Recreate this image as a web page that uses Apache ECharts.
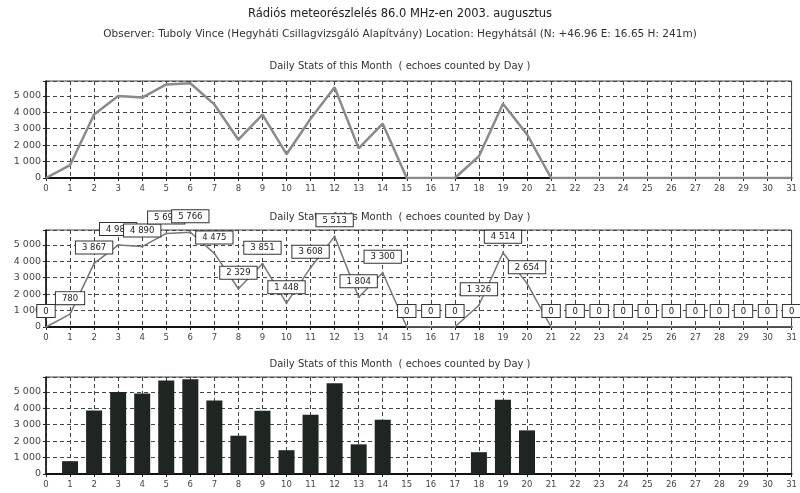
<!DOCTYPE html>
<html>
<head>
<meta charset="utf-8">
<script src="https://cdn.jsdelivr.net/npm/echarts@6/dist/echarts.min.js"></script>
<style>
html, body { margin: 0; padding: 0; background: #fff; }
#main { width: 800px; height: 493px; }
</style>
</head>
<body>
<div id="main"></div>
<script>
/* napi adatok - 2003. augusztus */
var days = [0, 1, 2, 3, 4, 5, 6, 7, 8, 9, 10, 11, 12, 13, 14, 15,
    16, 17, 18, 19, 20, 21, 22, 23, 24, 25, 26, 27, 28, 29, 30, 31];
var echoes = [0, 780, 3867, 4985, 4890, 5690, 5766, 4475, 2329, 3851, 1448, 3608, 5513, 1804, 3300, 0,
    0, 0, 1326, 4514, 2654, 0, 0, 0, 0, 0, 0, 0, 0, 0, 0, 0];
var yTicks = [0, 1000, 2000, 3000, 4000, 5000];

var mainTitle = 'Rádiós meteorészlelés 86.0 MHz-en 2003. augusztus';
var subTitle = 'Observer: Tuboly Vince (Hegyháti Csillagvizsgáló Alapítvány) Location: Hegyhátsál (N: +46.96 E: 16.65 H: 241m)';
var chartTitle = 'Daily Stats of this Month  ( echoes counted by Day )';

var pairs = days.map(function (d, i) { return [d, echoes[i]]; });

// 5766 -> "5 766"
function fmt(v) {
    return String(Math.round(v)).replace(/\B(?=(\d{3})+(?!\d))/g, ' ');
}

var font = 'DejaVu Sans';
var gridTops = [81, 230, 377];

function makeX(idx) {
    return {
        type: 'value', gridIndex: idx, min: 0, max: 31, interval: 1,
        axisLine: { show: true, onZero: false, lineStyle: { color: '#111', width: 2 } },
        axisTick: { show: true, length: 3, lineStyle: { color: '#222' } },
        axisLabel: { fontFamily: font, fontSize: 8.5, color: '#444', margin: 6 },
        splitLine: { show: true, lineStyle: { color: '#444', type: [4, 3], width: 1 } }
    };
}
function makeY(idx) {
    return {
        type: 'value', gridIndex: idx, min: 0, max: 5900, interval: 1000,
        axisLine: { show: true, lineStyle: { color: '#111', width: 1.5 } },
        axisTick: { show: true, length: 3, lineStyle: { color: '#222' } },
        axisLabel: {
            fontFamily: font, fontSize: 9.5, color: '#444', margin: 5,
            formatter: function (v) { return yTicks.indexOf(v) >= 0 ? fmt(v) : ''; }
        },
        splitLine: { show: true, lineStyle: { color: '#444', type: [4, 3], width: 1 } }
    };
}

var option = {
    backgroundColor: '#fff',
    animation: false,
    title: [
        { text: mainTitle, left: 'center', top: 3,
          textStyle: { fontFamily: font, fontSize: 11.5, fontWeight: 'normal', color: '#222' } },
        { text: subTitle, left: 'center', top: 24,
          textStyle: { fontFamily: font, fontSize: 10.5, fontWeight: 'normal', color: '#333' } },
        { text: chartTitle, left: 'center', top: 56,
          textStyle: { fontFamily: font, fontSize: 10, fontWeight: 'normal', color: '#333' } },
        { text: chartTitle, left: 'center', top: 207, z: 0,
          textStyle: { fontFamily: font, fontSize: 10, fontWeight: 'normal', color: '#333' } },
        { text: chartTitle, left: 'center', top: 354,
          textStyle: { fontFamily: font, fontSize: 10, fontWeight: 'normal', color: '#333' } }
    ],
    grid: gridTops.map(function (t) {
        return { left: 46, right: 6, top: t, height: 97, show: true, borderColor: '#444', borderWidth: 1 };
    }),
    xAxis: [makeX(0), makeX(1), makeX(2)],
    yAxis: [makeY(0), makeY(1), makeY(2)],
    series: [
        {
            type: 'line', xAxisIndex: 0, yAxisIndex: 0,
            data: pairs, symbol: 'none',
            lineStyle: { color: '#8a8a8a', width: 2.5 }
        },
        {
            type: 'line', xAxisIndex: 1, yAxisIndex: 1,
            data: pairs, symbol: 'circle', symbolSize: 2, z: 5,
            itemStyle: { color: '#777' },
            lineStyle: { color: '#777', width: 1.5 },
            label: {
                show: true, position: 'top', distance: 9,
                formatter: function (p) { return fmt(p.value[1]); },
                fontFamily: font, fontSize: 8.5, color: '#222',
                backgroundColor: '#fff', borderColor: '#333', borderWidth: 1,
                padding: [2, 6, 1, 6]
            }
        },
        {
            type: 'bar', xAxisIndex: 2, yAxisIndex: 2,
            data: pairs, barWidth: 16,
            itemStyle: { color: '#1f2622' }
        }
    ]
};

var chart = echarts.init(document.getElementById('main'));
chart.setOption(option);
</script>
</body>
</html>
